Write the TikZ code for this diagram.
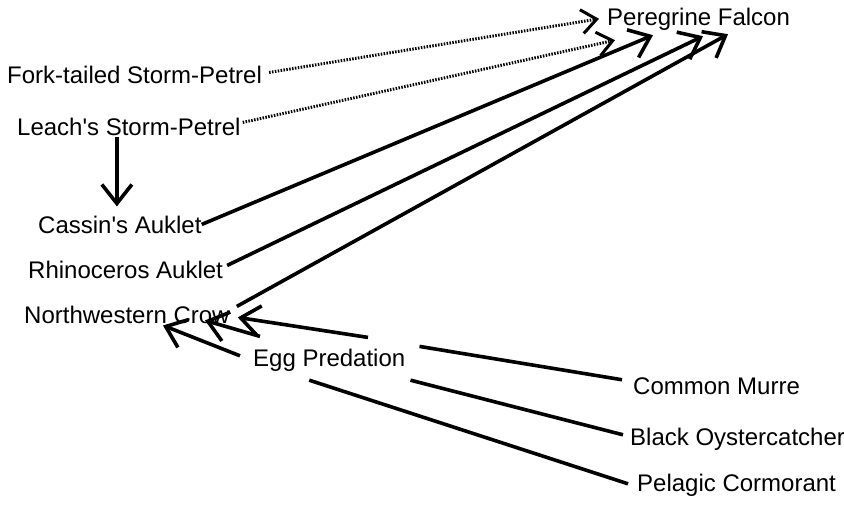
\documentclass[tikz,border=0pt]{standalone}
\usepackage{fontspec}
\setmainfont{Liberation Sans}
\usetikzlibrary{arrows.meta, positioning}

\begin{document}
\begin{tikzpicture}[x=1pt, y=-1pt,
    sp/.style={anchor=base west, inner sep=0pt, font=\fontsize{24}{28}\selectfont},
    eats/.style={-{Straight Barb[length=19pt, width=30pt]}, line width=3.6pt},
    maybe/.style={-{Straight Barb[length=15pt, width=24pt, line width=3pt]}, line width=3pt, dash pattern=on 1.5pt off 1.4pt},
    prey/.style={line width=3.6pt}]
    \useasboundingbox (0,0) rectangle (844,504);

    % Predators
    \node[sp] (falcon) at (607,25) {Peregrine Falcon};
    \node[sp] (fork) at (7,83) {Fork-tailed Storm-Petrel};
    \node[sp] (leach) at (17,135) {Leach\textquotesingle s Storm-Petrel};
    \node[sp] (cassin) at (38,233) {Cassin\textquotesingle s Auklet};
    \node[sp] (rhino) at (28,278) {Rhinoceros Auklet};
    \node[sp] (crow) at (24,323) {Northwestern Crow};
    \node[sp] (egg) at (253,366) {Egg Predation};

    % Prey
    \node[sp] (murre) at (633,394) {Common Murre};
    \node[sp] (oyster) at (630,445) {Black Oystercatcher};
    \node[sp] (cormorant) at (637,491) {Pelagic Cormorant};

    % To the falcon
    \draw[maybe] ([xshift=7pt,yshift=2pt]fork.east) -- ([xshift=-8pt]falcon.west);
    \draw[maybe] ([xshift=2pt,yshift=4pt]leach.east) -- ([xshift=8pt,yshift=-10pt]falcon.south west);
    \draw[eats] (cassin.east) -- ([xshift=46pt,yshift=-5pt]falcon.south west);
    \draw[eats] ([xshift=4pt,yshift=4pt]rhino.east) -- ([xshift=96pt,yshift=-6pt]falcon.south west);
    \draw[eats] ([xshift=7pt,yshift=8pt]crow.east) -- ([xshift=121pt,yshift=-4pt]falcon.south west);
    \draw[eats] ([xshift=-12pt,yshift=-2pt]leach.south) -- ([xshift=-12pt,yshift=9pt]leach.south |- cassin.north);

    % Egg predation
    \draw[eats] ([xshift=-13pt,yshift=4pt]egg.west) -- ([xshift=139pt,yshift=-2pt]crow.south west);
    \draw[eats] ([xshift=7pt,yshift=12pt]egg.north west) -- ([xshift=181pt,yshift=3pt]crow.south west);
    \draw[eats] ([xshift=115pt,yshift=11pt]egg.north west) -- ([xshift=8pt,yshift=-3pt]crow.east);
    \draw[prey] ([xshift=14pt,yshift=2pt]egg.north east) -- ([xshift=-11pt,yshift=6pt]murre.west);
    \draw[prey] ([xshift=5pt,yshift=-9pt]egg.south east) -- ([xshift=-7pt,yshift=4pt]oyster.west);
    \draw[prey] ([xshift=-20pt,yshift=-9pt]egg.south) -- ([xshift=-9pt,yshift=1pt]cormorant.west);
\end{tikzpicture}
\end{document}
